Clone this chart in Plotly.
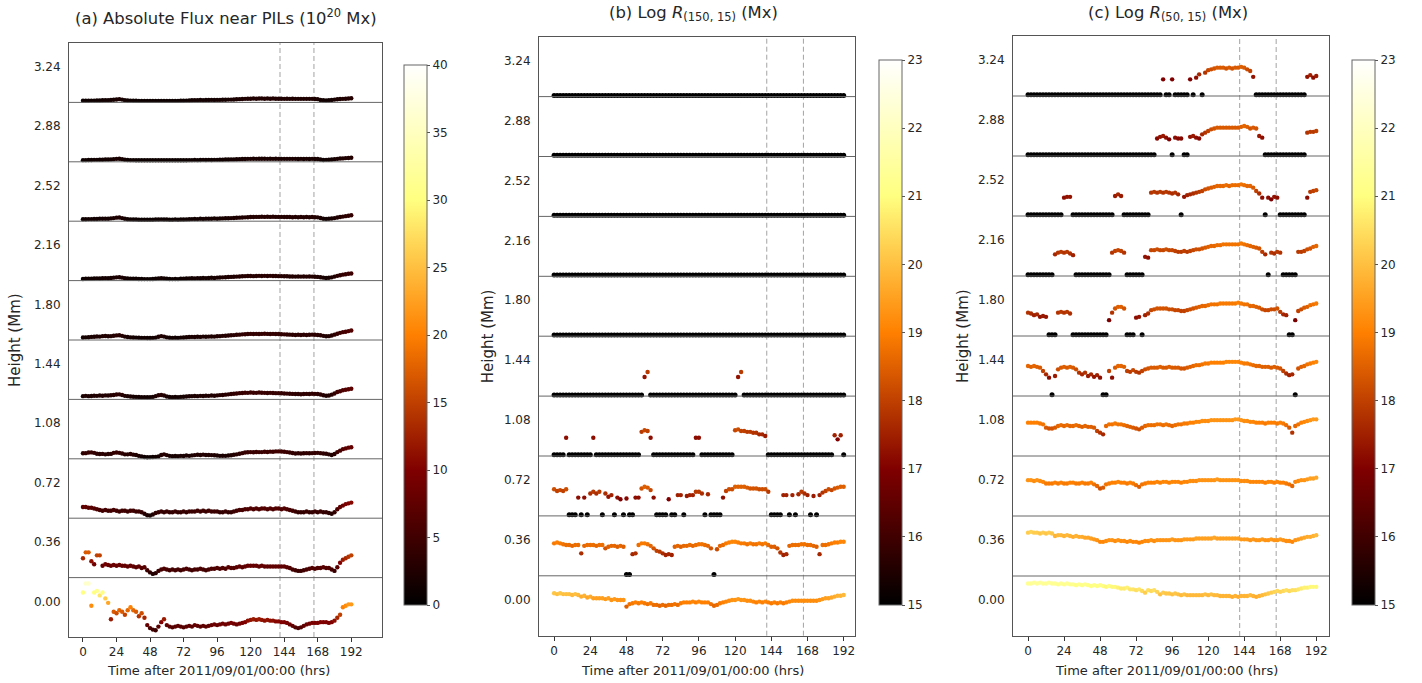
import plotly.graph_objects as go

# ---------------- data ----------------
HOURS = list(range(0, 193, 2))
HEIGHTS = [0.00, 0.36, 0.72, 1.08, 1.44, 1.80, 2.16, 2.52, 2.88, 3.24]
HEIGHT_LABELS = ["0.00", "0.36", "0.72", "1.08", "1.44", "1.80", "2.16", "2.52", "2.88", "3.24"]
TIME_TICKS = [0, 24, 48, 72, 96, 120, 144, 168, 192]
FLARE_HOURS = [141.0, 165.3]
FLUX_TICKS = [0, 5, 10, 15, 20, 25, 30, 35, 40]
LOGR_TICKS = [15, 16, 17, 18, 19, 20, 21, 22, 23]

# (a) absolute flux near PILs (1e20 Mx), one list per height, 2-hour cadence
FLUX_000 = [30, 36, 36, 21, 30, 31, 28, 30, 26, 23, 12, 17,
            16, 18, 17, 15, 18, 20, 18, 17, 14, 16, 13, 8,
            6, 5, 4.5, 7, 10, 12, 8, 7, 6.5, 7, 7.5, 7,
            6.5, 7, 7.5, 7, 8, 7.5, 7, 7.5, 7, 7.5, 8, 8.5,
            8, 8.5, 9, 8.5, 9, 9.5, 9, 8.5, 9, 9.5, 10, 11,
            11.5, 12, 11.5, 12, 11.5, 11, 11.5, 11, 11, 10.5, 10.5, 10,
            10, 9.5, 8.5, 7.5, 6.5, 6, 6.5, 7.5, 8.5, 9, 9.5, 9.5,
            9.5, 10, 10, 10, 9.5, 10, 11, 13, 15, 20, 21, 22,
            22]
FLUX_036 = [13, 17, 17, 11, 9, 15, 15, 8, 9, 8.5, 8, 8.5,
            8, 8.5, 8, 8, 7.5, 8, 7.5, 7, 7.5, 6.5, 7, 5,
            3.5, 2.5, 3, 4.5, 5.5, 6, 5.5, 5, 5.5, 5, 5.5, 5,
            5.5, 6, 5.5, 5, 5.5, 5.5, 6, 5.5, 5, 5.5, 6, 6,
            6.5, 6, 6.5, 6, 7, 6.5, 6.5, 7, 7.5, 7, 7.5, 8,
            8, 8, 8, 7.5, 8, 7.5, 7.5, 7.5, 7.5, 7.5, 7.5, 7.5,
            7.5, 7, 6.5, 5.5, 5, 4.5, 4.5, 5, 5.5, 6, 6.5, 6,
            6.5, 6.5, 7, 6.5, 6.5, 5.5, 4.5, 7, 10, 12, 13, 14,
            15]
FLUX_072 = [7.5, 7.5, 7, 7, 6.5, 6, 5.5, 5, 5.5, 5, 5, 5.5,
            5, 4.5, 5, 5, 4.5, 5, 5, 4.5, 4.5, 4, 3, 2,
            1.8, 2.5, 3.5, 4, 4.5, 4, 4.5, 4, 4, 4.5, 4, 4,
            4.5, 4, 4.5, 4.5, 4.5, 5, 4.5, 5, 4.5, 5, 4.5, 4.5,
            4.5, 4, 4, 4.5, 4, 4, 4.5, 5, 5.5, 5.5, 6, 6,
            6.5, 6, 6.5, 6, 6.5, 6.5, 6, 6.5, 6, 6.5, 6.5, 6,
            6.5, 6, 5.5, 5, 4.5, 4, 4, 4, 4.5, 4, 4, 4.5,
            4, 4.5, 4, 4, 3.5, 3, 4, 6, 7.5, 8.5, 9.5, 10,
            10.5]
FLUX_108 = [3.7, 3.8, 4.2, 4.3, 4, 3.4, 3.2, 3.3, 3, 3.2, 3.3, 4,
            4.2, 4, 3.6, 3, 3, 3.2, 2.8, 2.6, 2, 1.6, 1.2, 1,
            1.1, 1.2, 1.3, 1.6, 2.6, 3, 2.5, 2, 1.8, 1.9, 1.8, 2,
            1.9, 2.2, 2, 2.3, 2.5, 2.7, 2.6, 2.8, 2.6, 2.6, 2.5, 2.4,
            2.2, 2, 2.1, 2, 2.2, 2.4, 2.7, 3, 3.4, 3.8, 4.2, 4.4,
            4.5, 4.4, 4.6, 4.5, 4.5, 4.7, 4.6, 4.8, 4.7, 5, 5, 4.9,
            4.7, 4.5, 4.2, 3.9, 3.6, 3.7, 3.6, 3.7, 3.8, 3.7, 3.8, 3.9,
            4, 3.8, 3.6, 3.4, 3, 2.6, 3.2, 4.5, 5.5, 6.5, 7, 7.5,
            7.8]
FLUX_144 = [2.2, 2.4, 2.2, 2.3, 2.5, 2.4, 2.6, 2.5, 2.7, 2.6, 2.8, 3,
            3.3, 3.4, 3, 2.4, 2.2, 2, 1.8, 1.7, 1.6, 1.5, 1.5, 1.4,
            1.5, 1.7, 2.2, 2.8, 3, 2.6, 2, 1.6, 1.5, 1.6, 1.5, 1.7,
            1.8, 2, 2.1, 2.2, 2.3, 2.2, 2.4, 2.3, 2.5, 2.4, 2.6, 2.5,
            2.7, 2.9, 3, 3.2, 3.4, 3.6, 3.8, 4, 4.2, 4.3, 4.5, 4.4,
            4.6, 4.5, 4.4, 4.6, 4.5, 4.4, 4.3, 4.4, 4.3, 4.2, 4.2, 4.1,
            4, 3.9, 3.8, 3.7, 3.6, 3.6, 3.5, 3.6, 3.7, 3.6, 3.8, 3.7,
            3.6, 3.3, 2.8, 2.5, 2.6, 3.2, 4, 5, 5.5, 6.2, 6.5, 6.8,
            7.2]
FLUX_180 = [1.7, 1.8, 1.9, 2.1, 2.2, 2.4, 2.3, 2.6, 2.7, 2.5, 2.6, 2.9,
            3.1, 3.2, 2.8, 2.3, 2, 1.8, 1.7, 1.6, 1.5, 1.4, 1.4, 1.3,
            1.3, 1.4, 1.6, 2.2, 2.6, 2.3, 1.8, 1.5, 1.4, 1.5, 1.4, 1.6,
            1.7, 1.9, 2, 2.1, 2, 2.2, 2.1, 2.3, 2.2, 2.3, 2.4, 2.3,
            2.5, 2.6, 2.8, 2.9, 3, 3.2, 3.3, 3.5, 3.6, 3.8, 3.9, 4,
            4.1, 4, 4.1, 4, 4.1, 4.2, 4.1, 4, 4.1, 4, 4, 3.9,
            3.8, 3.7, 3.6, 3.5, 3.4, 3.5, 3.4, 3.5, 3.4, 3.5, 3.6, 3.5,
            3.4, 3.2, 2.8, 2.5, 2.6, 3, 3.6, 4.2, 4.8, 5.3, 5.6, 6,
            6.4]
FLUX_216 = [1.1, 1.2, 1.3, 1.3, 1.4, 1.5, 1.4, 1.6, 1.7, 1.6, 1.8, 2,
            2.2, 2.3, 2, 1.6, 1.4, 1.3, 1.2, 1.2, 1.1, 1.1, 1, 1,
            1, 1.1, 1.2, 1.5, 1.7, 1.5, 1.2, 1.1, 1, 1.1, 1, 1.2,
            1.3, 1.4, 1.5, 1.6, 1.5, 1.7, 1.6, 1.8, 1.7, 1.8, 1.9, 1.8,
            2, 2.1, 2.2, 2.3, 2.4, 2.5, 2.6, 2.7, 2.8, 2.9, 3, 3.1,
            3.1, 3, 3.1, 3.2, 3.1, 3.2, 3.1, 3.2, 3.1, 3.1, 3, 3,
            2.9, 2.9, 2.8, 2.8, 2.7, 2.8, 2.7, 2.8, 2.7, 2.8, 2.7, 2.6,
            2.5, 2.3, 2, 1.8, 1.9, 2.2, 2.7, 3.2, 3.6, 4, 4.3, 4.6,
            4.8]
FLUX_252 = [1.3, 1.3, 1.4, 1.4, 1.5, 1.5, 1.6, 1.6, 1.7, 1.7, 1.9, 2.1,
            2.4, 2.5, 2.1, 1.6, 1.3, 1.2, 1.1, 1.1, 1, 1, 1, 1,
            1, 1, 1.1, 1.1, 1.2, 1.1, 1.1, 1, 1, 1.1, 1, 1.1,
            1.1, 1.2, 1.3, 1.4, 1.5, 1.4, 1.6, 1.5, 1.7, 1.6, 1.7, 1.8,
            1.7, 1.8, 1.9, 2, 2, 2.1, 2.2, 2.3, 2.4, 2.5, 2.6, 2.7,
            2.8, 2.8, 2.9, 2.9, 3, 2.9, 3, 2.9, 3, 2.9, 2.9, 2.9,
            2.8, 2.8, 2.8, 2.7, 2.8, 2.7, 2.8, 2.7, 2.8, 2.7, 2.8, 2.7,
            2.6, 2.2, 1.6, 1.5, 1.6, 1.8, 2.1, 2.5, 2.8, 3.1, 3.4, 3.7,
            4]
FLUX_288 = [1.1, 1.1, 1.2, 1.2, 1.3, 1.3, 1.4, 1.4, 1.5, 1.5, 1.6, 1.8,
            2, 2.1, 1.8, 1.4, 1.2, 1.1, 1.1, 1, 1, 1, 1, 1,
            1, 1, 1, 1, 1, 1, 1, 1, 1, 1, 1, 1,
            1, 1, 1.1, 1.1, 1.2, 1.1, 1.2, 1.3, 1.2, 1.3, 1.2, 1.3,
            1.3, 1.4, 1.4, 1.5, 1.5, 1.6, 1.6, 1.7, 1.8, 1.9, 1.9, 2,
            2, 2.1, 2, 2.1, 2.1, 2.1, 2, 2.1, 2, 2.1, 2, 2,
            2, 2, 2, 2, 2, 1.9, 2, 1.9, 2, 1.9, 2, 1.9,
            1.9, 1.5, 1.2, 1.3, 1.4, 1.5, 1.8, 2, 2.2, 2.3, 2.5, 2.6,
            2.7]
FLUX_324 = [1.1, 1.1, 1.1, 1.2, 1.2, 1.3, 1.3, 1.4, 1.5, 1.5, 1.6, 1.8,
            2, 2.2, 1.9, 1.5, 1.3, 1.2, 1.1, 1.1, 1, 1, 1, 1,
            1, 1, 1, 1, 1, 1, 1, 1, 1, 1, 1, 1.1,
            1.1, 1.2, 1.3, 1.4, 1.5, 1.5, 1.6, 1.5, 1.6, 1.6, 1.7, 1.6,
            1.7, 1.7, 1.8, 1.8, 1.9, 1.9, 2, 2.1, 2.2, 2.3, 2.4, 2.5,
            2.5, 2.6, 2.5, 2.6, 2.6, 2.5, 2.6, 2.5, 2.6, 2.5, 2.5, 2.5,
            2.4, 2.5, 2.4, 2.5, 2.4, 2.4, 2.4, 2.4, 2.4, 2.4, 2.4, 2.3,
            2.2, 1.6, 1.4, 1.3, 1.4, 1.6, 1.9, 2.1, 2.3, 2.4, 2.5, 2.6,
            2.8]

# (b) log R(150,15) in Mx (0 = no R, drawn black on the strip floor)
R150_000 = [20.1, 20.0, 20.1, 20.0, 20.0, 20.0, 19.9, 20.0, 19.9, 19.7, 19.8, 19.6,
            19.7, 19.5, 19.5, 19.5, 19.5, 19.4, 19.5, 19.3, 19.4, 19.3, 19.3, 19.3,
            18.5, 18.8, 18.9, 19.0, 18.9, 19.0, 18.9, 18.8, 18.9, 18.7, 18.7, 18.6,
            18.7, 18.6, 18.7, 18.7, 18.8, 18.7, 18.9, 19.0, 19.0, 19.0, 19.1, 19.0,
            19.1, 19.0, 19.0, 19.0, 18.8, 18.6, 18.7, 18.9, 19.0, 19.1, 19.2, 19.3,
            19.3, 19.4, 19.3, 19.3, 19.2, 19.2, 19.1, 19.0, 19.1, 19.0, 19.1, 19.0,
            18.9, 19.0, 18.9, 19.0, 18.9, 19.0, 19.1, 19.2, 19.2, 19.2, 19.2, 19.2,
            19.2, 19.2, 19.2, 19.2, 19.3, 19.4, 19.5, 19.5, 19.6, 19.7, 19.8, 19.8,
            19.9]
R150_036 = [18.9, 19.0, 18.9, 18.8, 18.7, 18.7, 18.6, 18.7, 18.7, 17.7, 18.6, 18.7,
            18.7, 18.7, 18.6, 18.7, 18.7, 18.3, 18.5, 18.6, 18.6, 18.5, 18.6, 18.5,
            0, 0, 17.6, 17.7, 18.7, 18.9, 18.9, 18.8, 18.6, 18.3, 18.0, 17.9,
            17.7, 17.5, 17.6, 17.5, 18.5, 18.6, 18.5, 18.6, 18.6, 18.7, 18.6, 18.7,
            18.8, 18.8, 18.7, 18.6, 18.3, 0, 18.2, 18.6, 18.7, 18.9, 19.0, 19.1,
            19.1, 19.0, 18.9, 18.9, 18.8, 18.9, 18.8, 18.8, 18.9, 18.8, 18.9, 18.7,
            18.5, 18.5, 18.3, 17.8, 17.5, 17.6, 18.6, 18.7, 18.7, 18.7, 18.8, 18.8,
            18.7, 18.7, 18.6, 18.5, 17.6, 18.7, 18.7, 18.8, 18.9, 19.0, 19.0, 19.1,
            19.1]
R150_072 = [18.2, 18.0, 18.1, 18.0, 18.2, 0, 0, 0, 17.2, 0, 17.2, 0,
            17.7, 17.9, 17.7, 17.9, 0, 17.7, 17.3, 17.5, 0, 17.2, 17.0, 0,
            17.1, 0, 0, 17.2, 17.2, 18.3, 18.5, 18.4, 18.1, 17.2, 0, 0,
            0, 0, 17.0, 0, 0, 17.5, 17.5, 0, 17.4, 17.5, 17.5, 17.9,
            17.9, 17.7, 0, 17.6, 0, 0, 0, 0, 17.2, 18.0, 18.2, 18.2,
            18.5, 18.5, 18.5, 18.5, 18.4, 18.3, 18.3, 18.3, 18.2, 18.2, 18.2, 17.9,
            0, 0, 0, 0, 17.5, 17.5, 0, 17.5, 0, 17.6, 17.9, 17.7,
            17.5, 0, 17.4, 0, 17.5, 17.8, 18.0, 18.2, 18.1, 18.3, 18.4, 18.5,
            18.5]
R150_108 = [0, 0, 0, 0, 17.2, 0, 0, 0, 0, 0, 0, 0,
            0, 17.2, 0, 0, 0, 0, 0, 0, 0, 0, 0, 0,
            0, 0, 0, 0, 0, 17.9, 18.1, 18.0, 17.2, 0, 0, 0,
            0, 0, 0, 0, 0, 0, 0, 0, 0, 0, 0, 17.2,
            17.2, 0, 0, 0, 0, 0, 0, 0, 0, 0, 0, 0,
            18.1, 18.2, 18.0, 18.0, 17.9, 17.9, 17.8, 17.8, 17.6, 17.6, 17.4, 0,
            0, 0, 0, 0, 0, 0, 0, 0, 0, 0, 0, 0,
            0, 0, 0, 0, 0, 0, 0, 0, 0, 17.5, 17.0, 17.5,
            0]
R150_144 = [0, 0, 0, 0, 0, 0, 0, 0, 0, 0, 0, 0,
            0, 0, 0, 0, 0, 0, 0, 0, 0, 0, 0, 0,
            0, 0, 0, 0, 0, 0, 17.3, 17.9, 0, 0, 0, 0,
            0, 0, 0, 0, 0, 0, 0, 0, 0, 0, 0, 0,
            0, 0, 0, 0, 0, 0, 0, 0, 0, 0, 0, 0,
            0, 17.3, 17.9, 0, 0, 0, 0, 0, 0, 0, 0, 0,
            0, 0, 0, 0, 0, 0, 0, 0, 0, 0, 0, 0,
            0, 0, 0, 0, 0, 0, 0, 0, 0, 0, 0, 0,
            0]
R150_NONE = [0] * 97   # heights 1.80-3.24: no R at any time
R150_180 = R150_NONE
R150_216 = R150_NONE
R150_252 = R150_NONE
R150_288 = R150_NONE
R150_324 = R150_NONE

# (c) log R(50,15) in Mx
R50_000 = [21.3, 21.3, 21.4, 21.3, 21.4, 21.3, 21.3, 21.4, 21.3, 21.3, 21.2, 21.3,
           21.2, 21.3, 21.2, 21.2, 21.1, 21.2, 21.1, 21.2, 21.1, 21.0, 21.1, 21.0,
           21.1, 21.0, 20.9, 21.0, 20.9, 20.9, 20.8, 20.7, 20.7, 20.8, 20.6, 20.6,
           20.5, 20.6, 20.4, 20.2, 20.5, 20.4, 20.5, 20.3, 20.0, 20.2, 20.1, 20.1,
           20.0, 20.1, 20.0, 19.9, 20.0, 19.9, 19.9, 19.9, 19.9, 19.9, 19.9, 20.0,
           19.9, 20.0, 19.9, 19.9, 19.8, 19.8, 19.8, 19.8, 19.7, 19.8, 19.7, 19.8,
           19.8, 19.8, 19.9, 19.8, 19.7, 19.8, 19.9, 20.0, 20.1, 20.2, 20.3, 20.4,
           20.3, 20.4, 20.5, 20.4, 20.5, 20.5, 20.6, 20.7, 20.8, 20.8, 20.9, 20.9,
           20.9]
R50_036 = [20.2, 20.3, 20.2, 20.2, 20.1, 20.2, 20.1, 20.2, 20.1, 19.8, 19.9, 19.9,
           19.8, 19.9, 19.8, 19.7, 19.8, 19.7, 19.7, 19.6, 19.6, 19.5, 19.4, 19.3,
           19.1, 19.1, 19.2, 19.3, 19.3, 19.2, 19.3, 19.2, 19.2, 19.1, 19.2, 19.1,
           19.1, 19.0, 19.1, 19.2, 19.2, 19.3, 19.2, 19.3, 19.3, 19.3, 19.3, 19.3,
           19.4, 19.3, 19.3, 19.3, 19.4, 19.4, 19.4, 19.4, 19.5, 19.5, 19.5, 19.5,
           19.5, 19.5, 19.6, 19.5, 19.5, 19.5, 19.5, 19.5, 19.5, 19.5, 19.5, 19.4,
           19.4, 19.4, 19.3, 19.4, 19.3, 19.3, 19.4, 19.3, 19.3, 19.4, 19.3, 19.3,
           19.4, 19.3, 19.2, 19.2, 19.1, 19.3, 19.4, 19.5, 19.6, 19.7, 19.7, 19.8,
           19.9]
R50_072 = [19.3, 19.3, 19.2, 19.3, 19.2, 19.1, 18.9, 18.9, 18.9, 19.0, 18.9, 19.0,
           18.9, 18.9, 19.0, 19.0, 18.9, 18.9, 19.0, 18.9, 18.9, 19.0, 18.8, 18.6,
           18.3, 18.4, 18.8, 18.9, 19.0, 19.0, 19.1, 19.0, 19.0, 18.9, 19.0, 18.9,
           18.7, 18.5, 18.8, 18.9, 19.0, 19.0, 19.0, 19.1, 19.0, 19.1, 19.1, 19.0,
           19.1, 19.1, 19.1, 19.0, 19.1, 19.1, 19.2, 19.2, 19.2, 19.3, 19.3, 19.3,
           19.3, 19.3, 19.3, 19.4, 19.3, 19.3, 19.3, 19.3, 19.3, 19.3, 19.3, 19.2,
           19.2, 19.2, 19.1, 19.1, 19.1, 19.1, 19.1, 19.0, 19.1, 19.1, 19.0, 19.1,
           19.0, 19.0, 18.9, 18.8, 18.6, 19.1, 19.2, 19.3, 19.3, 19.4, 19.5, 19.5,
           19.6]
R50_108 = [19.0, 19.0, 19.0, 19.0, 18.9, 18.8, 18.4, 18.3, 18.3, 18.4, 18.6, 18.7,
           18.6, 18.7, 18.6, 18.6, 18.7, 18.6, 18.5, 18.6, 18.5, 18.5, 18.4, 18.0,
           17.8, 17.6, 18.6, 18.8, 18.8, 18.9, 18.8, 18.8, 18.7, 18.6, 18.5, 18.4,
           18.3, 18.2, 18.4, 18.6, 18.7, 18.7, 18.7, 18.8, 18.8, 18.7, 18.8, 18.7,
           18.6, 18.7, 18.8, 18.8, 18.9, 18.9, 19.0, 19.0, 19.1, 19.1, 19.2, 19.2,
           19.2, 19.3, 19.3, 19.3, 19.3, 19.3, 19.3, 19.3, 19.3, 19.4, 19.4, 19.3,
           19.2, 19.2, 19.1, 19.1, 19.0, 19.0, 19.0, 18.9, 19.0, 19.0, 19.0, 18.9,
           19.0, 18.9, 18.7, 18.4, 17.8, 18.6, 18.8, 19.0, 19.1, 19.2, 19.3, 19.4,
           19.4]
R50_144 = [18.6, 18.5, 18.6, 18.5, 18.4, 18.0, 17.6, 17.2, 0, 17.4, 18.2, 18.4,
           18.5, 18.4, 18.5, 18.4, 18.2, 17.8, 17.6, 17.8, 17.4, 17.6, 17.3, 17.5,
           17.2, 0, 0, 18.0, 17.2, 18.4, 18.6, 18.6, 18.5, 18.0, 17.9, 18.1,
           17.9, 17.8, 18.0, 18.2, 18.3, 18.4, 18.4, 18.4, 18.5, 18.4, 18.4, 18.5,
           18.4, 18.4, 18.4, 18.3, 18.3, 18.4, 18.5, 18.6, 18.7, 18.7, 18.8, 18.9,
           18.9, 19.0, 19.0, 19.0, 19.0, 19.0, 19.1, 19.1, 19.1, 19.1, 19.1, 19.0,
           18.9, 18.9, 18.8, 18.7, 18.6, 18.6, 18.5, 18.5, 18.5, 18.4, 18.5, 18.4,
           18.3, 18.0, 17.7, 17.5, 17.6, 0, 18.3, 18.5, 18.6, 18.8, 18.9, 19.0,
           19.1]
R50_180 = [17.8, 17.7, 17.5, 17.6, 17.3, 17.4, 17.3, 0, 0, 0, 17.8, 17.9,
           17.8, 17.9, 17.7, 0, 0, 0, 0, 0, 0, 0, 0, 0,
           0, 0, 0, 16.9, 17.8, 18.3, 18.5, 18.5, 18.3, 0, 0, 0,
           17.2, 17.3, 0, 17.5, 17.7, 18.1, 18.2, 18.3, 18.3, 18.3, 18.3, 18.2,
           18.2, 18.1, 18.1, 18.0, 18.0, 18.1, 18.2, 18.3, 18.4, 18.5, 18.6, 18.6,
           18.7, 18.8, 18.8, 18.8, 18.9, 18.9, 18.9, 18.9, 18.9, 18.9, 19.0, 18.9,
           18.8, 18.8, 18.6, 18.6, 18.5, 18.4, 18.2, 18.1, 18.1, 18.2, 18.2, 18.3,
           17.9, 17.6, 17.5, 0, 0, 16.9, 18.0, 18.2, 18.4, 18.5, 18.7, 18.8,
           18.9]
R50_216 = [0, 0, 0, 0, 0, 0, 0, 0, 0, 17.6, 17.8, 17.9,
           17.8, 17.9, 17.7, 17.5, 0, 0, 0, 0, 0, 0, 0, 0,
           0, 0, 0, 0, 17.8, 18.0, 18.1, 18.0, 17.8, 0, 0, 0,
           0, 0, 0, 17.3, 17.2, 18.1, 18.1, 18.2, 18.1, 18.1, 18.2, 18.1,
           18.1, 18.0, 17.9, 17.9, 18.0, 17.9, 18.0, 18.1, 18.2, 18.2, 18.3, 18.4,
           18.5, 18.6, 18.6, 18.7, 18.7, 18.8, 18.8, 18.8, 18.8, 18.8, 18.8, 18.9,
           18.8, 18.7, 18.6, 18.5, 18.4, 18.3, 17.9, 17.6, 0, 17.8, 17.7, 17.9,
           17.8, 0, 0, 0, 0, 0, 17.9, 17.9, 18.0, 18.2, 18.3, 18.5,
           18.6]
R50_252 = [0, 0, 0, 0, 0, 0, 0, 0, 0, 0, 0, 0,
           17.2, 17.3, 17.3, 0, 0, 0, 0, 0, 0, 0, 0, 0,
           0, 0, 0, 0, 0, 17.4, 17.6, 17.4, 0, 0, 0, 0,
           0, 0, 0, 0, 0, 17.8, 17.9, 17.8, 17.9, 17.8, 17.9, 17.8,
           17.7, 17.8, 17.6, 0, 17.3, 17.5, 17.6, 17.7, 17.8, 17.9, 18.0, 18.2,
           18.3, 18.4, 18.5, 18.6, 18.6, 18.6, 18.7, 18.6, 18.7, 18.7, 18.7, 18.8,
           18.7, 18.6, 18.6, 18.4, 18.0, 17.7, 17.2, 0, 17.2, 17.0, 17.3, 17.2,
           0, 0, 0, 0, 0, 0, 0, 0, 0, 17.2, 17.9, 18.0,
           18.1]
R50_288 = [0, 0, 0, 0, 0, 0, 0, 0, 0, 0, 0, 0,
           0, 0, 0, 0, 0, 0, 0, 0, 0, 0, 0, 0,
           0, 0, 0, 0, 0, 0, 0, 0, 0, 0, 0, 0,
           0, 0, 0, 0, 0, 0, 0, 17.1, 17.3, 17.4, 17.2, 17.0,
           0, 17.2, 17.1, 17.1, 0, 0, 17.3, 17.4, 17.2, 17.1, 17.6, 17.8,
           18.0, 18.2, 18.3, 18.4, 18.4, 18.4, 18.4, 18.4, 18.4, 18.4, 18.4, 18.5,
           18.6, 18.5, 18.3, 18.4, 18.3, 17.4, 17.2, 0, 0, 0, 0, 0,
           0, 0, 0, 0, 0, 0, 0, 0, 0, 17.8, 17.9, 17.9,
           18.0]
R50_324 = [0, 0, 0, 0, 0, 0, 0, 0, 0, 0, 0, 0,
           0, 0, 0, 0, 0, 0, 0, 0, 0, 0, 0, 0,
           0, 0, 0, 0, 0, 0, 0, 0, 0, 0, 0, 0,
           0, 0, 0, 0, 0, 0, 0, 0, 0, 17.0, 0, 0,
           17.0, 0, 0, 0, 0, 0, 17.0, 0, 17.2, 17.6, 0, 17.8,
           18.1, 18.2, 18.3, 18.4, 18.4, 18.4, 18.3, 18.4, 18.3, 18.4, 18.4, 18.5,
           18.4, 18.2, 18.0, 17.3, 0, 0, 0, 0, 0, 0, 0, 0,
           0, 0, 0, 0, 0, 0, 0, 0, 0, 17.3, 17.5, 17.2,
           17.4]

FLUX = [FLUX_000, FLUX_036, FLUX_072, FLUX_108, FLUX_144,
        FLUX_180, FLUX_216, FLUX_252, FLUX_288, FLUX_324]
R150 = [R150_000, R150_036, R150_072, R150_108, R150_144,
        R150_180, R150_216, R150_252, R150_288, R150_324]
R50 = [R50_000, R50_036, R50_072, R50_108, R50_144,
       R50_180, R50_216, R50_252, R50_288, R50_324]

for grp in (FLUX, R150, R50):
    for s in grp:
        assert len(s) == len(HOURS), len(s)

# ---------------- styling / layout ----------------
W, H = 1422, 683
FONT = "DejaVu Sans"
TXT = "#262626"
STEP = 0.36            # height spacing of the strips
BELOW = 0.6 * STEP     # strip floor sits this far below its height label
YR = [HEIGHTS[0] - BELOW, HEIGHTS[-1] + STEP - BELOW]

AFMHOT = [[0.0, "rgb(0,0,0)"], [0.25, "rgb(128,0,0)"], [0.5, "rgb(255,128,0)"],
          [0.75, "rgb(255,255,128)"], [1.0, "rgb(255,255,255)"]]


def flux_frac(v):
    return min(max(v / 40.0, 0.025), 0.98)


def logr_frac(v):
    if v <= 0:
        return 0.02
    return min(max((v - 15.0) / 7.2, 0.02), 0.98)


PANELS = [
    dict(data=FLUX, frac=flux_frac, px=(69, 382), py=(43, 637), xr=[-10, 214],
         cb=(404, 65, 605), cmin=0, cmax=40, cticks=FLUX_TICKS,
         title="(a) Absolute Flux near PILs (10<sup>20</sup> Mx)", tx=226, ty=17,
         ylx=15, xlx=218),
    dict(data=R150, frac=logr_frac, px=(539, 855), py=(36.7, 635.7), xr=[-10, 199.5],
         cb=(879, 60, 605), cmin=15, cmax=23, cticks=LOGR_TICKS,
         title="(b) Log <i>R</i><sub>(150, 15)</sub> (Mx)", tx=693, ty=14,
         ylx=488, xlx=692),
    dict(data=R50, frac=logr_frac, px=(1013, 1329), py=(36, 636), xr=[-10, 200.5],
         cb=(1352, 60, 605), cmin=15, cmax=23, cticks=LOGR_TICKS,
         title="(c) Log <i>R</i><sub>(50, 15)</sub> (Mx)", tx=1168, ty=14,
         ylx=963, xlx=1166),
]

fig = go.Figure()
layout = dict(width=W, height=H, autosize=False,
              margin=dict(l=0, r=0, t=0, b=0),
              paper_bgcolor="white", plot_bgcolor="white",
              font=dict(family=FONT, size=12, color=TXT),
              showlegend=False, shapes=[], annotations=[])

for k, p in enumerate(PANELS):
    sfx = "" if k == 0 else str(k + 1)
    xa, ya, ca = "x" + sfx, "y" + sfx, "coloraxis" + sfx
    for h, vals in zip(HEIGHTS, p["data"]):
        ys = [h - BELOW + p["frac"](v) * STEP for v in vals]
        sizes = [5.0 if v <= 0 else 4.4 for v in vals]
        fig.add_trace(go.Scatter(
            x=HOURS, y=ys, mode="markers", xaxis=xa, yaxis=ya,
            marker=dict(size=sizes, color=vals, coloraxis=ca, opacity=1,
                        line=dict(width=0)),
            hoverinfo="skip"))

    x0, x1 = p["px"]
    y0, y1 = p["py"]
    layout["xaxis" + sfx] = dict(
        domain=[x0 / W, x1 / W], range=p["xr"], anchor=ya,
        tickvals=TIME_TICKS, ticks="outside", ticklen=4, tickwidth=1, tickcolor="#333",
        showline=True, mirror=True, linecolor="#555", linewidth=1,
        showgrid=False, zeroline=False, tickfont=dict(size=12, color=TXT))
    layout["yaxis" + sfx] = dict(
        domain=[1 - y1 / H, 1 - y0 / H], range=YR, anchor=xa,
        tickvals=HEIGHTS, ticktext=HEIGHT_LABELS, ticks="outside", ticklen=5,
        tickcolor="rgba(0,0,0,0)", showline=True, mirror=True, linecolor="#555",
        linewidth=1, showgrid=False, zeroline=False, tickfont=dict(size=12, color=TXT))
    cbx, cby0, cby1 = p["cb"]
    layout[ca] = dict(
        colorscale=AFMHOT, cmin=p["cmin"], cmax=p["cmax"],
        colorbar=dict(x=cbx / W, xanchor="left", y=1 - (cby0 + cby1) / 2 / H,
                      yanchor="middle", len=(cby1 - cby0) / H, lenmode="fraction",
                      thickness=23, thicknessmode="pixels", xpad=0, ypad=0,
                      tickvals=p["cticks"], ticks="outside", ticklen=3,
                      tickcolor="#555", outlinecolor="#666", outlinewidth=1,
                      tickfont=dict(size=12, color=TXT)))
    # strip separators
    for h in HEIGHTS[1:]:
        layout["shapes"].append(dict(
            type="line", xref=xa + " domain", yref=ya, x0=0, x1=1,
            y0=h - BELOW, y1=h - BELOW, line=dict(color="#666", width=1), layer="above"))
    # flare markers
    for t in FLARE_HOURS:
        layout["shapes"].append(dict(
            type="line", xref=xa, yref=ya + " domain", x0=t, x1=t, y0=0, y1=1,
            line=dict(color="#a3a3a3", width=1, dash="5px,3px"), layer="below"))
    # texts
    layout["annotations"].append(dict(
        text=p["title"], xref="paper", yref="paper", x=p["tx"] / W, y=1 - p["ty"] / H,
        xanchor="center", yanchor="middle", showarrow=False,
        font=dict(size=16.4, color=TXT)))
    layout["annotations"].append(dict(
        text="Height (Mm)", xref="paper", yref="paper", x=p["ylx"] / W,
        y=1 - (y0 + y1) / 2 / H, xanchor="center", yanchor="middle",
        textangle=-90, showarrow=False, font=dict(size=15, color=TXT)))
    layout["annotations"].append(dict(
        text="Time after 2011/09/01/00:00 (hrs)", xref="paper", yref="paper",
        x=p["xlx"] / W, y=1 - 670 / H, xanchor="center", yanchor="middle",
        showarrow=False, font=dict(size=13, color=TXT)))

fig.update_layout(**layout)
fig.write_html("out.html",
               config={"displayModeBar": False},
               post_script="document.body.style.margin='0px';"
                           "document.body.style.overflow='hidden';")
